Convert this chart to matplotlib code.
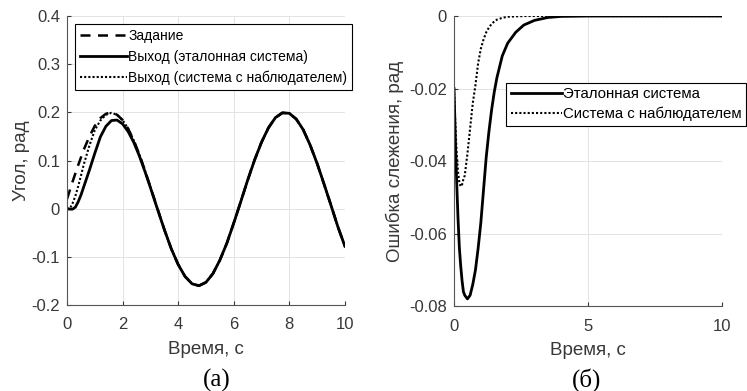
import matplotlib
matplotlib.use("Agg")
import matplotlib.pyplot as plt

plt.rcParams['font.family'] = ['Liberation Sans', 'DejaVu Sans']
plt.rcParams['axes.unicode_minus'] = False

# (a) angle vs time
t_a = [0, 0.1, 0.2, 0.3, 0.4, 0.5, 0.6, 0.8, 1.0, 1.2, 1.4, 1.6, 1.8, 2.0,
       2.2, 2.4, 2.6, 2.8, 3.0, 3.25, 3.5, 3.75, 4.0, 4.25, 4.5, 4.75, 5.0,
       5.25, 5.5, 5.75, 6.0, 6.25, 6.5, 6.75, 7.0, 7.25, 7.5, 7.75, 8.0,
       8.25, 8.5, 8.75, 9.0, 9.25, 9.5, 9.75, 10.0]
zadanie = [0.020, 0.038, 0.056, 0.073, 0.090, 0.106, 0.122, 0.149, 0.172,
           0.188, 0.197, 0.200, 0.195, 0.184, 0.166, 0.142, 0.113, 0.080,
           0.045, 0.001, -0.043, -0.083, -0.116, -0.141, -0.156, -0.160,
           -0.153, -0.135, -0.107, -0.072, -0.030, 0.014, 0.059, 0.101,
           0.138, 0.168, 0.189, 0.199, 0.198, 0.186, 0.164, 0.132, 0.094,
           0.051, 0.007, -0.038, -0.078]
vyhod_etalon = [0.000, -0.001, -0.001, 0.003, 0.014, 0.028, 0.045, 0.079,
                0.115, 0.149, 0.171, 0.183, 0.184, 0.176, 0.160, 0.138,
                0.110, 0.078, 0.044, 0.000, -0.043, -0.083, -0.116, -0.141,
                -0.156, -0.160, -0.153, -0.135, -0.107, -0.072, -0.030,
                0.014, 0.059, 0.101, 0.138, 0.168, 0.189, 0.199, 0.198,
                0.186, 0.164, 0.132, 0.094, 0.051, 0.007, -0.038, -0.078]
vyhod_nabl = [0.000, 0.000, 0.011, 0.026, 0.046, 0.068, 0.091, 0.130,
              0.163, 0.183, 0.195, 0.199, 0.195, 0.184, 0.166, 0.142,
              0.113, 0.080, 0.045, 0.001, -0.043, -0.083, -0.116, -0.141,
              -0.156, -0.160, -0.153, -0.135, -0.107, -0.072, -0.030,
              0.014, 0.059, 0.101, 0.138, 0.168, 0.189, 0.199, 0.198,
              0.186, 0.164, 0.132, 0.094, 0.051, 0.007, -0.038, -0.078]

# (б) tracking error vs time
t_b = [0, 0.05, 0.1, 0.15, 0.2, 0.25, 0.3, 0.35, 0.4, 0.5, 0.6, 0.7, 0.8,
       0.9, 1.0, 1.1, 1.2, 1.3, 1.4, 1.5, 1.6, 1.8, 2.0, 2.3, 2.6, 3.0, 3.5,
       4.0, 5.0, 6.0, 7.0, 8.0, 9.0, 10.0]
err_etalon = [-0.020, -0.034, -0.046, -0.056, -0.064, -0.069, -0.073,
              -0.076, -0.077, -0.078, -0.077, -0.074, -0.070, -0.064,
              -0.057, -0.048, -0.039, -0.032, -0.026, -0.021, -0.017,
              -0.011, -0.0075, -0.0045, -0.0025, -0.0012, -0.0004, -0.0001,
              0, 0, 0, 0, 0, 0]
err_nabl = [-0.020, -0.030, -0.038, -0.043, -0.046, -0.047, -0.0465,
            -0.045, -0.044, -0.038, -0.031, -0.024, -0.019, -0.013, -0.009,
            -0.0065, -0.0045, -0.0032, -0.0022, -0.0015, -0.001, -0.0005,
            -0.0002, -0.0001, 0, 0, 0, 0, 0, 0, 0, 0, 0, 0]

txt = '#383838'
dashed = (0, (4, 3))
dotted = (0, (1, 1))

fig = plt.figure(figsize=(7.47, 3.91), dpi=100)
ax1 = fig.add_axes([0.0897, 0.220, 0.372, 0.739])
ax2 = fig.add_axes([0.6078, 0.217, 0.3588, 0.742])


def style(ax):
    for s in ['top', 'right']:
        ax.spines[s].set_visible(False)
    for s in ['left', 'bottom']:
        ax.spines[s].set_color('#555555')
        ax.spines[s].set_linewidth(0.8)
    ax.grid(True, color='#e3e3e3', linewidth=0.7)
    ax.set_axisbelow(True)
    ax.tick_params(direction='in', length=3, labelsize=12, colors=txt)
    ax.tick_params(axis='x', pad=9)
    ax.tick_params(axis='y', pad=5)


ax1.plot(t_a, zadanie, color='black', lw=1.8, ls=dashed, label='Задание')
ax1.plot(t_a, vyhod_etalon, color='black', lw=2,
         label='Выход (эталонная система)')
ax1.plot(t_a, vyhod_nabl, color='black', lw=1.5, ls=dotted,
         label='Выход (система с наблюдателем)')
ax1.set_xlim(0, 10)
ax1.set_ylim(-0.2, 0.4)
ax1.set_xticks([0, 2, 4, 6, 8, 10])
ax1.set_yticks([-0.2, -0.1, 0, 0.1, 0.2, 0.3, 0.4])
ax1.set_yticklabels(['-0.2', '-0.1', '0', '0.1', '0.2', '0.3', '0.4'])
style(ax1)
ax1.set_xlabel('Время, с', fontsize=13.5, color=txt, labelpad=6)
ax1.set_ylabel('Угол, рад', fontsize=13.5, color=txt, labelpad=1)
leg1 = ax1.legend(loc='upper left', bbox_to_anchor=(75 / 747, 1 - 24 / 391),
                  bbox_transform=fig.transFigure, fontsize=10,
                  fancybox=False, framealpha=1, edgecolor='black',
                  handlelength=3.4, handletextpad=0.1, borderpad=0.35,
                  labelspacing=0.5, borderaxespad=0)
leg1.get_frame().set_linewidth(0.8)

ax2.plot(t_b, err_etalon, color='black', lw=2, label='Эталонная система')
ax2.plot(t_b, err_nabl, color='black', lw=1.5, ls=dotted,
         label='Система с наблюдателем')
ax2.set_xlim(0, 10)
ax2.set_ylim(-0.08, 0)
ax2.set_xticks([0, 5, 10])
ax2.set_yticks([-0.08, -0.06, -0.04, -0.02, 0])
ax2.set_yticklabels(['-0.08', '-0.06', '-0.04', '-0.02', '0'])
style(ax2)
ax2.set_xlabel('Время, с', fontsize=13.5, color=txt, labelpad=6)
ax2.set_ylabel('Ошибка слежения, рад', fontsize=13.5, color=txt,
               labelpad=4)
leg2 = ax2.legend(loc='upper left', bbox_to_anchor=(506 / 747, 1 - 83 / 391),
                  bbox_transform=fig.transFigure, fontsize=10.8,
                  fancybox=False, framealpha=1, edgecolor='black',
                  handlelength=3.4, handletextpad=0.1, borderpad=0.3,
                  labelspacing=0.35, borderaxespad=0)
leg2.get_frame().set_linewidth(0.8)

fig.text(217 / 747, 1 - 380 / 391, '(a)', ha='center', va='center',
         fontsize=18, family='Liberation Serif')
fig.text(587 / 747, 1 - 380 / 391, '(б)', ha='center', va='center',
         fontsize=18, family='Liberation Serif')

fig.savefig('out.png', dpi=100)
